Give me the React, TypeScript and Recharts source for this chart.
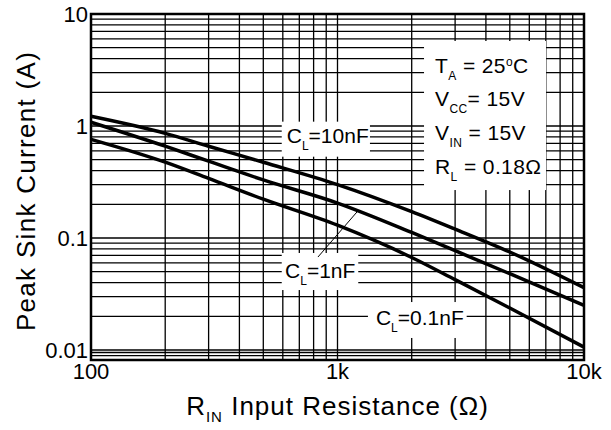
import React from 'react';
import { LineChart, Line, XAxis, YAxis, CartesianGrid, ReferenceArea, ReferenceLine } from 'recharts';

const FONT = '"Liberation Sans", Arial, Helvetica, sans-serif';

// input resistance (ohm) and peak sink current (A) per load capacitance
const resistance = [100, 200, 300, 500, 1000, 2000, 3000, 5000, 10000];
const sink10nF = [1.22, 0.86, 0.66, 0.475, 0.3, 0.172, 0.12, 0.075, 0.036];
const sink1nF = [1.08, 0.66, 0.485, 0.33, 0.205, 0.112, 0.077, 0.048, 0.025];
const sink01nF = [0.76, 0.475, 0.34, 0.222, 0.13, 0.067, 0.0425, 0.0237, 0.0106];

const xMajor = [100, 1000, 10000];
const xMajorText = ['100', '1k', '10k'];
const yMajor = [0.01, 0.1, 1, 10];
const yMajorText = ['0.01', '0.1', '1', '10'];
const yExtraGrid = [0.0089, 0.0095];

const Y_MIN = 0.00814;
const Y_MAX = 10;

const xTicks: number[] = [];
;[100, 1000].forEach((d) => {
  for (let m = 1; m < 10; m++) xTicks.push(d * m);
});
xTicks.push(10000);

const yTicks: number[] = [...yExtraGrid];
;[0.01, 0.1, 1].forEach((d) => {
  for (let m = 1; m < 10; m++) yTicks.push(+(d * m).toPrecision(3));
});
yTicks.push(10);

const data = resistance.map((r, i) => ({
  r,
  c10: sink10nF[i],
  c1: sink1nF[i],
  c01: sink01nF[i],
}));

const XTick = (props: any) => {
  const { x, y, payload } = props;
  const i = xMajor.indexOf(payload.value);
  if (i < 0) return <g />;
  return (
    <text x={x} y={y} dy={17} textAnchor="middle" fontSize={22} fontFamily={FONT} fill="#000">
      {xMajorText[i]}
    </text>
  );
};

const YTick = (props: any) => {
  const { x, y, payload } = props;
  const i = yMajor.indexOf(payload.value);
  if (i < 0) return <g />;
  return (
    <text x={x} y={y} dy={8} textAnchor="end" fontSize={22} fontFamily={FONT} fill="#000">
      {yMajorText[i]}
    </text>
  );
};

const XTitle = (props: any) => {
  const { x, y, width } = props.viewBox;
  return (
    <text
      x={x + width / 2}
      y={y + 55}
      textAnchor="middle"
      fontSize={26}
      letterSpacing={1}
      fontFamily={FONT}
      fill="#000"
    >
      <tspan>R</tspan>
      <tspan fontSize={15} dy={7}>IN</tspan>
      <tspan dy={-7}> Input Resistance (Ω)</tspan>
    </text>
  );
};

const YTitle = (props: any) => {
  const { y, height } = props.viewBox;
  const cy = y + height / 2 + 4;
  return (
    <text
      x={35}
      y={cy}
      transform={`rotate(-90, 35, ${cy})`}
      textAnchor="middle"
      fontSize={26}
      letterSpacing={1.3}
      fontFamily={FONT}
      fill="#000"
    >
      Peak Sink Current (A)
    </text>
  );
};

const capLabel = (value: string, dx: number, dy: number) => (props: any) => {
  const { x, y, width, height } = props;
  return (
    <g>
      <rect x={x} y={y} width={width} height={height} fill="#fff" />
      <text x={x + dx} y={y + dy} fontSize={21} fontFamily={FONT} fill="#000">
        <tspan>C</tspan>
        <tspan fontSize={12} dy={7}>L</tspan>
        <tspan dy={-7}>={value}</tspan>
      </text>
    </g>
  );
};

const ConditionsBox = (props: any) => {
  const { x, y, width, height } = props;
  const tx = x + 11;
  const line = 33.7;
  const b = y + 31.7;
  return (
    <g fontFamily={FONT} fontSize={21} letterSpacing={0.4} fill="#000">
      <rect x={x} y={y} width={width} height={height} fill="#fff" />
      <text x={tx} y={b}>
        <tspan>T</tspan>
        <tspan fontSize={12} dy={7}>A</tspan>
        <tspan dy={-7}> = 25</tspan>
        <tspan fontSize={12} dy={-7}>o</tspan>
        <tspan dy={7}>C</tspan>
      </text>
      <text x={tx} y={b + line}>
        <tspan>V</tspan>
        <tspan fontSize={12} dy={7}>CC</tspan>
        <tspan dy={-7}>= 15V</tspan>
      </text>
      <text x={tx} y={b + line * 2}>
        <tspan>V</tspan>
        <tspan fontSize={12} dy={7}>IN</tspan>
        <tspan dy={-7}> = 15V</tspan>
      </text>
      <text x={tx} y={b + line * 3}>
        <tspan>R</tspan>
        <tspan fontSize={12} dy={7}>L</tspan>
        <tspan dy={-7}> = 0.18Ω</tspan>
      </text>
    </g>
  );
};

export default function App() {
  return (
    <div style={{ position: 'absolute', left: 0, top: 0, width: 611, height: 430, background: '#fff' }}>
      <LineChart width={611} height={430} data={data} margin={{ top: 14, right: 27, bottom: 0, left: 0 }}>
        <CartesianGrid stroke="#000" strokeWidth={1.3} />
        <XAxis
          dataKey="r"
          type="number"
          scale="log"
          domain={[100, 10000]}
          ticks={xTicks}
          interval={0}
          tick={<XTick />}
          tickSize={0}
          tickMargin={2}
          axisLine={false}
          height={70}
          label={XTitle}
        />
        <YAxis
          type="number"
          scale="log"
          domain={[Y_MIN, Y_MAX]}
          allowDataOverflow
          ticks={yTicks}
          interval={0}
          tick={<YTick />}
          tickSize={0}
          tickMargin={3}
          axisLine={false}
          width={91}
          label={YTitle}
        />
        <ReferenceArea x1={2244} x2={7015} y1={0.268} y2={5.74} shape={ConditionsBox} ifOverflow="visible" />
        <ReferenceArea x1={594} x2={1354} y1={0.532} y2={1.093} shape={capLabel('10nF', 5, 21.6)} />
        <ReferenceArea x1={594} x2={1214} y1={0.0343} y2={0.0735} shape={capLabel('1nF', 3.3, 25.3)} />
        <ReferenceArea x1={1329} x2={3342} y1={0.0128} y2={0.0268} shape={capLabel('0.1nF', 8, 23)} />
        <ReferenceLine
          segment={[
            { x: 833, y: 0.0676 },
            { x: 1199, y: 0.1706 },
          ]}
          stroke="#000"
          strokeWidth={1}
        />
        <Line type="monotone" dataKey="c10" stroke="#000" strokeWidth={3.5} dot={false} isAnimationActive={false} />
        <Line type="monotone" dataKey="c1" stroke="#000" strokeWidth={3.5} dot={false} isAnimationActive={false} />
        <Line type="monotone" dataKey="c01" stroke="#000" strokeWidth={3.5} dot={false} isAnimationActive={false} />
        <ReferenceArea x1={100} x2={10000} y1={Y_MIN} y2={Y_MAX} fill="none" stroke="#000" strokeWidth={2.5} ifOverflow="visible" />
      </LineChart>
    </div>
  );
}
